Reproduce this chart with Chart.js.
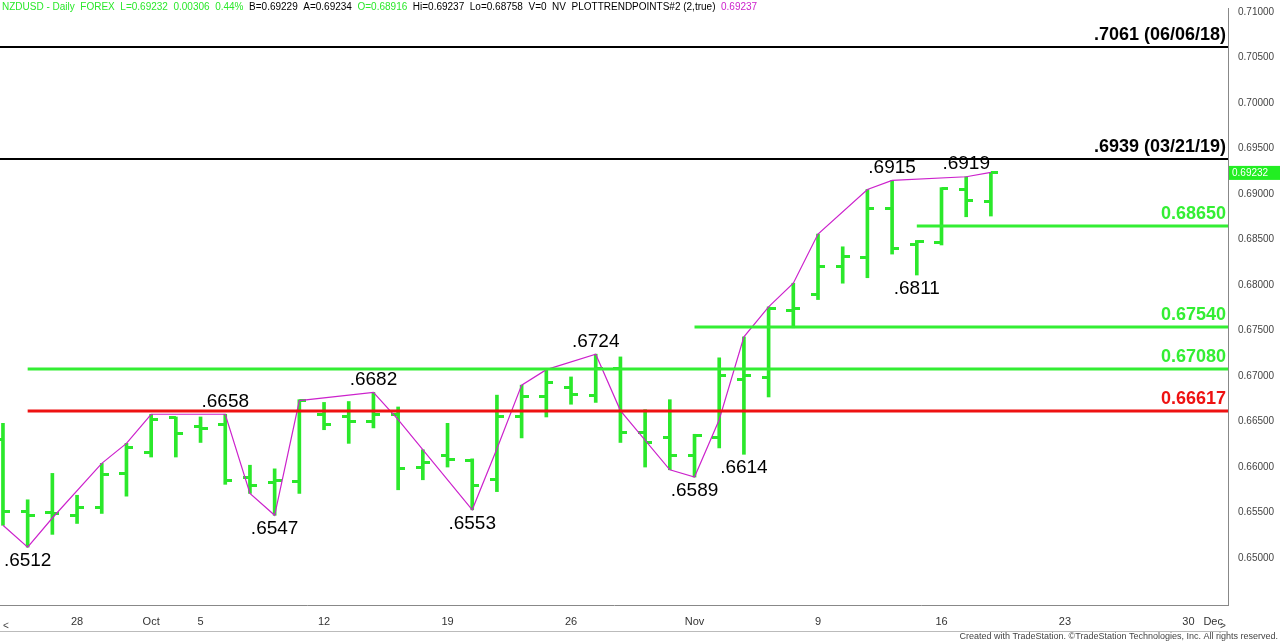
<!DOCTYPE html>
<html><head><meta charset="utf-8">
<script src="https://cdn.jsdelivr.net/npm/chart.js@4"></script>
<style>html,body{margin:0;padding:0;background:#fff}#wrap{width:1280px;height:642px}</style>
</head><body><div id="wrap"><canvas id="c"></canvas></div>
<script>
// trading-day index, 0 = Sep 28
const days = [-3,-2,-1,0,1,2,3,4,5,6,7,8,9,10,11,12,13,14,15,16,17,18,19,20,21,22,23,24,25,26,27,28,29,30,31,32,33,34,35,36,37];
const opens  = [0.6630,0.6551,0.6550,0.6547,0.6555,0.6593,0.6616,0.6654,0.6644,0.6647,0.6589,0.6583,0.6584,0.6658,0.6655,0.6650,0.6658,0.6600,0.6613,0.6607,0.6586,0.6655,0.6677,0.6687,0.6679,0.6708,0.6638,0.6632,0.6613,0.6633,0.6696,0.6698,0.6772,0.6790,0.6820,0.6830,0.6884,0.6845,0.6847,0.6905,0.68916];
const highs  = [0.6648,0.6564,0.6593,0.6569,0.6604,0.6626,0.6658,0.6655,0.6655,0.6658,0.6602,0.6598,0.6674,0.6671,0.6672,0.6682,0.6666,0.6619,0.6648,0.6609,0.6679,0.6690,0.6707,0.6699,0.6724,0.6721,0.6663,0.6674,0.6636,0.6720,0.6743,0.6776,0.6802,0.6856,0.6842,0.6905,0.6915,0.6849,0.6907,0.6919,0.69237];
const lows   = [0.6536,0.6512,0.6526,0.6538,0.6549,0.6568,0.6611,0.6611,0.6627,0.6581,0.6571,0.6547,0.6571,0.6641,0.6626,0.6643,0.6575,0.6586,0.6600,0.6553,0.6573,0.6632,0.6655,0.6669,0.6671,0.6627,0.6600,0.6597,0.6589,0.6621,0.6614,0.6677,0.6753,0.6784,0.6802,0.6808,0.6834,0.6811,0.6844,0.6875,0.68758];
const closes = [0.6551,0.6547,0.6549,0.6555,0.6592,0.6622,0.6652,0.6637,0.6642,0.6585,0.6580,0.6585,0.6673,0.6647,0.6650,0.6658,0.6598,0.6605,0.6608,0.6580,0.6655,0.6677,0.6693,0.6680,0.6708,0.6638,0.6627,0.6613,0.6635,0.6701,0.6701,0.6774,0.6774,0.6820,0.6831,0.6884,0.6840,0.6848,0.6906,0.6893,0.69232];

const trendX = [-3,-2,-1,1,2,3,6,7,8,9,12,13,16,17,18,19,21,22,24,25,26,27,28,29,30,32,33,36,37];
const trendY = [0.6536,0.6512,0.6544,0.6604,0.6626,0.6658,0.6658,0.6571,0.6547,0.6673,0.6682,0.6652,0.6553,0.6620,0.6690,0.6707,0.6724,0.6662,0.6597,0.6589,0.6652,0.6743,0.6776,0.6802,0.6856,0.6905,0.6915,0.6919,0.69237];

const swingX = [-2,6,8,12,16,21,25,27,33,34,36];
const swingY = [0.6512,0.6658,0.6547,0.6682,0.6553,0.6724,0.6589,0.6614,0.6915,0.6811,0.6919];
const swingText = [".6512",".6658",".6547",".6682",".6553",".6724",".6589",".6614",".6915",".6811",".6919"];
const swingUp = [false,true,false,true,false,true,false,false,true,false,true];

const levelY = [0.7061,0.6939,0.6865,0.6754,0.6708,0.66617];
const levelFrom = [-3.2,-3.2,34,25,-2,-2];
const levelText = [".7061 (06/06/18)",".6939 (03/21/19)","0.68650","0.67540","0.67080","0.66617"];
const levelColor = ["#000","#000","#33ee33","#33ee33","#33ee33","#ee1111"];

const tickIdx = [0,3,5,10,15,20,25,30,35,40,45,46];
const tickLbl = ["28","Oct","5","12","19","26","Nov","9","16","23","30","Dec"];
const yTicks = [0.65,0.655,0.66,0.665,0.67,0.675,0.68,0.685,0.69,0.695,0.70,0.705,0.71];

const green = "#2be82b";
function tickCanvas(left){
  const c=document.createElement('canvas');c.width=14;c.height=3;
  const g=c.getContext('2d');g.fillStyle=green;g.fillRect(left?0:7,0,7,3);return c;
}

const levelsPlugin = {
  id:'levels',
  afterDatasetsDraw(ch){
    const {ctx,scales:{x,y},chartArea:a}=ch;
    ctx.save();
    levelY.forEach((v,i)=>{
      const py=Math.round(y.getPixelForValue(v));
      ctx.strokeStyle=levelColor[i];ctx.lineWidth=i<2?2:3;
      ctx.beginPath();ctx.moveTo(Math.max(a.left,x.getPixelForValue(levelFrom[i])),py);ctx.lineTo(a.right,py);ctx.stroke();
      ctx.fillStyle=levelColor[i];ctx.font='bold 18px Arial, "Liberation Sans"';
      ctx.textAlign='right';ctx.textBaseline='bottom';
      ctx.fillText(levelText[i],a.right-2,py-3);
    });
    ctx.fillStyle='#000';ctx.font='19px Arial, "Liberation Sans"';ctx.textAlign='center';
    swingX.forEach((sx,i)=>{
      const px=x.getPixelForValue(sx),py=y.getPixelForValue(swingY[i]);
      ctx.textBaseline=swingUp[i]?'bottom':'top';
      ctx.fillText(swingText[i],px,swingUp[i]?py-3:py+4);
    });
    // current price box
    const cy=y.getPixelForValue(closes[closes.length-1]);
    ctx.fillStyle='#22ee22';ctx.fillRect(a.right+1,cy-7,51,14);
    ctx.fillStyle='#fff';ctx.font='10px Arial';ctx.textAlign='left';ctx.textBaseline='middle';
    ctx.fillText(closes[closes.length-1].toFixed(5),a.right+4,cy);
    // header
    ctx.font='10px Arial, "Liberation Sans"';ctx.textBaseline='middle';ctx.textAlign='left';
    const parts=[["NZDUSD - Daily  FOREX  L=0.69232  0.00306  0.44%  ",green],["B=0.69229  A=0.69234  ","#000"],["O=0.68916  ",green],["Hi=0.69237  Lo=0.68758  V=0  NV  PLOTTRENDPOINTS#2 (2,true)  ","#000"],["0.69237","#cc22cc"]];
    let hx=2;parts.forEach(p=>{ctx.fillStyle=p[1];ctx.fillText(p[0],hx,7);hx+=ctx.measureText(p[0]).width;});
    // footer
    ctx.fillStyle='#444';ctx.font='9px Arial';ctx.textAlign='right';
    ctx.fillText('Created with TradeStation. \u00a9TradeStation Technologies, Inc. All rights reserved.',1278,637);
    ctx.textAlign='left';ctx.font='10px Arial';ctx.fillText('<',3,626);ctx.fillText('>',a.right-8,626);
    ctx.strokeStyle='#bbb';ctx.lineWidth=1;ctx.beginPath();ctx.moveTo(0,631.5);ctx.lineTo(a.right,631.5);ctx.stroke();
    ctx.restore();
  }
};

new Chart(document.getElementById('c'),{
  data:{datasets:[
    {type:'bar',data:days.map((d,i)=>({x:d,y:[lows[i],highs[i]]})),backgroundColor:green,barThickness:3,order:3},
    {type:'scatter',data:days.map((d,i)=>({x:d,y:opens[i]})),pointStyle:tickCanvas(true),pointRadius:7,order:2},
    {type:'scatter',data:days.map((d,i)=>({x:d,y:closes[i]})),pointStyle:tickCanvas(false),pointRadius:7,order:2},
    {type:'line',data:trendX.map((d,i)=>({x:d,y:trendY[i]})),borderColor:'#cc22cc',borderWidth:1.2,pointRadius:0,order:1}
  ]},
  options:{
    responsive:true,maintainAspectRatio:false,animation:false,
    layout:{autoPadding:false,padding:{left:0,right:0,top:0,bottom:17}},
    plugins:{legend:{display:false},tooltip:{enabled:false}},
    scales:{
      x:{type:'linear',min:-3.12,max:46.6,offset:false,grid:{display:false,drawTicks:true},
        border:{color:'#888'},
        afterBuildTicks(s){s.ticks=tickIdx.map(v=>({value:v}));},
        afterFit(s){s.height=20;},
        ticks:{autoSkip:false,maxRotation:0,color:'#333',font:{size:11,family:'Arial'},padding:2,
          callback(v){const i=tickIdx.indexOf(v);return i<0?'':tickLbl[i];}}},
      y:{position:'right',min:0.64484,max:0.71044,grid:{display:false},border:{color:'#888'},
        afterBuildTicks(s){s.ticks=yTicks.map(v=>({value:v}));},
        afterFit(s){s.width=52;},
        ticks:{color:'#444',font:{size:10,family:'Arial'},padding:2,callback:v=>v.toFixed(5)}}
    }
  },
  plugins:[levelsPlugin]
});
</script></body></html>
